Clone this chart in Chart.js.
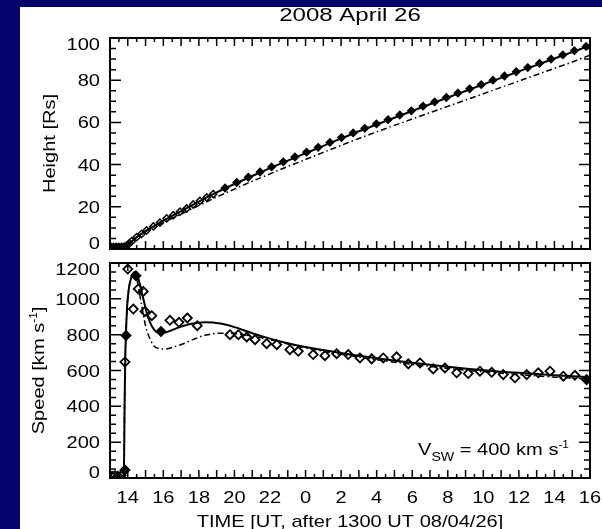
<!DOCTYPE html>
<html lang="en">
<head>
<meta charset="UTF-8">
<meta name="viewport" content="width=device-width, initial-scale=1.0">
<title>CME height and speed - 2008 April 26</title>
<script src="https://cdn.jsdelivr.net/npm/chart.js"></script>
<style>
    * { margin: 0; padding: 0; box-sizing: border-box; }
    body { background-color: #04046c; }
    .page { position: relative; width: 602px; height: 529px; background-color: #04046c; overflow: hidden; }
    .sheet { position: absolute; left: 20px; top: 7px; right: 0; bottom: 0; background-color: #fff; }
    .page canvas { position: absolute; left: 0; top: 0; }
</style>
</head>
<body>
<div class="page">
    <div class="sheet"></div>
    <canvas id="heightChart" width="602" height="529"></canvas>
    <canvas id="speedChart" width="602" height="529"></canvas>
</div>
<script>
// time is in hours from 00 UT on 26 April (24 = 00 UT on the 27th)
const timeMin = 13;
const timeMax = 40;
const timeTicks = [14, 16, 18, 20, 22, 24, 26, 28, 30, 32, 34, 36, 38, 40];
const timeTickLabels = ['14', '16', '18', '20', '22', '0', '2', '4', '6', '8', '10', '12', '14', '16'];
const heightTicks = [0, 20, 40, 60, 80, 100];
const speedTicks = [0, 200, 400, 600, 800, 1000, 1200];

// height-time model curves
const hFitTime = [13.0, 13.8, 13.9, 14.0, 14.2, 14.5, 15.0, 15.5, 16.0, 16.5, 17.0, 18.0, 19.0, 20.0, 21.0, 22.0, 23.0,
    24.0, 25.0, 26.0, 27.0, 28.0, 29.0, 30.0, 31.0, 32.0, 33.0, 34.0, 35.0, 36.0, 37.0, 38.0, 39.0, 40.0];
const hFitSolid = [1.1, 1.1, 1.4, 2.0, 3.5, 5.6, 8.5, 11.0, 13.4, 15.7, 18.0, 22.5, 26.8, 30.8, 34.6, 38.3, 41.9,
    45.4, 48.9, 52.4, 55.8, 59.0, 62.2, 65.4, 68.6, 71.8, 74.9, 78.0, 81.1, 84.2, 87.2, 90.3, 93.3, 96.4];
const hFitDashed = [1.1, 1.1, 1.4, 2.0, 3.5, 5.6, 8.3, 10.5, 12.5, 14.5, 16.5, 20.6, 24.6, 28.4, 32.1, 35.6, 39.1,
    42.4, 45.8, 49.1, 52.4, 55.5, 58.6, 61.6, 64.6, 67.6, 70.6, 73.6, 76.6, 79.6, 82.6, 85.6, 88.6, 91.9];

// measured heights: coronagraph (open) and HI1 (filled)
const hObsEarlyTime = [13.05, 13.2, 13.35, 13.5, 13.65, 13.8, 13.95, 14.08, 14.22, 14.5, 14.78, 15.06, 15.44, 15.81,
    16.19, 16.56, 16.94, 17.31, 17.68, 18.06, 18.44, 18.81];
const hObsEarly = [1.0, 1.0, 1.0, 1.0, 1.0, 1.1, 1.7, 2.6, 3.7, 5.6, 7.2, 8.8, 10.7, 12.5,
    14.5, 16.0, 17.7, 19.2, 21.1, 22.8, 24.4, 26.0];
const hObsLateTime = [19.47, 20.13, 20.78, 21.44, 22.09, 22.75, 23.4, 24.06, 24.71, 25.37, 26.02, 26.68, 27.33, 27.99,
    28.64, 29.3, 29.95, 30.61, 31.26, 31.92, 32.57, 33.23, 33.88, 34.54, 35.19, 35.85, 36.5, 37.16, 37.81, 38.47,
    39.12, 39.78];
const hObsLate = [28.9, 31.5, 34.0, 36.5, 38.9, 41.3, 43.6, 45.9, 48.2, 50.5, 52.8, 55.0, 57.2, 59.3,
    61.3, 63.5, 65.5, 67.7, 69.7, 71.8, 73.9, 75.9, 77.9, 80.0, 82.0, 84.0, 86.0, 88.0, 90.0, 92.0,
    94.0, 96.0];

// speed model curves
const vSolidTime = [13.0, 13.78, 13.82, 13.86, 13.9, 13.96, 14.05, 14.2, 14.4, 14.6, 14.85, 15.1, 15.4, 15.8, 16.2,
    16.8, 17.5, 18.4, 19.2, 20.0, 21.0, 22.0, 23.0, 24.0, 26.0, 28.0, 30.0, 32.0, 34.0, 36.0, 38.0, 40.0];
const vSolid = [5, 5, 400, 680, 810, 950, 1050, 1120, 1150, 1110, 1010, 910, 840, 808, 815,
    838, 860, 869, 862, 842, 808, 778, 752, 731, 698, 668, 643, 621, 602, 587, 574, 563];
const vDashTime = [13.0, 13.78, 13.82, 13.86, 13.9, 13.96, 14.05, 14.2, 14.4, 14.55, 14.75, 15.0, 15.3, 15.6, 16.1,
    16.7, 17.2, 17.7, 18.4, 19.2, 20.0, 21.0, 22.0, 23.0, 24.0, 26.0, 28.0, 30.0, 32.0, 34.0, 36.0, 38.0, 40.0];
const vDash = [5, 5, 400, 680, 810, 950, 1050, 1120, 1150, 1090, 980, 850, 765, 728, 720,
    735, 752, 774, 798, 808, 806, 793, 772, 748, 726, 690, 660, 634, 612, 593, 577, 563, 552];

// measured speeds
const vObsTime = [13.12, 13.28, 13.45, 13.62, 13.84, 14.0, 14.31, 14.59, 14.87, 14.97, 15.35, 16.37, 16.88, 17.35,
    17.91, 19.75, 20.22, 20.69, 21.16, 21.81, 22.38, 23.12, 23.59, 24.43, 25.09, 25.75, 26.4, 27.06, 27.72, 28.37,
    29.12, 29.78, 30.44, 31.18, 31.84, 32.5, 33.15, 33.81, 34.47, 35.12, 35.78, 36.44, 37.09, 37.75, 38.5, 39.15];
const vObs = [10, 14, 10, 12, 648, 1166, 943, 1055, 1041, 930, 906, 880, 869, 893,
    850, 800, 800, 787, 772, 750, 744, 716, 707, 689, 683, 694, 689, 670, 665, 670,
    676, 637, 642, 609, 614, 587, 583, 596, 590, 577, 559, 577, 587, 596, 568, 573];
const vObsFilledTime = [13.84, 13.9, 14.46, 15.87, 39.81];
const vObsFilled = [44, 795, 1129, 818, 549];

const FONT = "'Liberation Sans', Arial, Helvetica, sans-serif";
const STRETCH = 1.18; // lettering runs a little wide

// draws a run of [text, size, dy] pieces, so sub/superscripts can follow normal text
function drawText(ctx, parts, x, y, align, angle, stretch) {
    ctx.save();
    ctx.translate(x, y);
    if (angle) ctx.rotate(angle);
    ctx.scale(stretch || STRETCH, 1);
    ctx.textAlign = 'left';
    ctx.textBaseline = 'alphabetic';
    const widths = parts.map(([text, size]) => {
        ctx.font = size + 'px ' + FONT;
        return ctx.measureText(text).width;
    });
    const total = widths.reduce((a, b) => a + b, 0);
    let cx = align === 'center' ? -total / 2 : align === 'right' ? -total : 0;
    parts.forEach(([text, size, dy], i) => {
        ctx.font = size + 'px ' + FONT;
        ctx.fillText(text, cx, dy);
        cx += widths[i];
    });
    ctx.restore();
}

// boxed axes with inward ticks on all four sides
function panelAxes(cfg) {
    return {
        id: 'panelAxes',
        afterDatasetsDraw(chart) {
            const {ctx, chartArea: a} = chart;
            const xs = chart.scales.x;
            const ys = chart.scales.y;
            ctx.save();
            ctx.strokeStyle = '#000';
            ctx.fillStyle = '#000';
            ctx.lineWidth = 1.5;
            ctx.beginPath();
            for (let t = timeMin; t <= timeMax; t += 0.5) {
                const px = xs.getPixelForValue(t);
                const len = Number.isInteger(t) ? 8 : 4;
                ctx.moveTo(px, a.bottom); ctx.lineTo(px, a.bottom - len);
                ctx.moveTo(px, a.top); ctx.lineTo(px, a.top + len);
            }
            for (let v = ys.min; v <= ys.max; v += cfg.yMinor) {
                const py = ys.getPixelForValue(v);
                const len = v % cfg.yMajor === 0 ? 11 : 6;
                ctx.moveTo(a.left, py); ctx.lineTo(a.left + len, py);
                ctx.moveTo(a.right, py); ctx.lineTo(a.right - len, py);
            }
            ctx.stroke();
            ctx.lineWidth = 2;
            ctx.strokeRect(a.left, a.top, a.right - a.left, a.bottom - a.top);

            // y labels, the end ones pulled inside the frame
            cfg.yTicks.forEach((v, i) => {
                let py = ys.getPixelForValue(v) + 6;
                if (i === 0) py -= 6;
                if (i === cfg.yTicks.length - 1) py += 5.5;
                drawText(ctx, [[String(v), 17, 0]], a.left - 10, py, 'right');
            });
            drawText(ctx, cfg.yTitle, cfg.yTitleX, (a.top + a.bottom) / 2, 'center', -Math.PI / 2);

            if (cfg.title) {
                drawText(ctx, [[cfg.title, 18.5, 0]], (a.left + a.right) / 2, 21, 'center', 0, 1.3);
            }
            if (cfg.xTitle) {
                timeTicks.forEach((t, i) => {
                    drawText(ctx, [[timeTickLabels[i], 17, 0]], xs.getPixelForValue(t), a.bottom + 25, 'center');
                });
                drawText(ctx, [[cfg.xTitle, 17, 0]], (a.left + a.right) / 2, 527, 'center');
            }
            if (cfg.note) {
                drawText(ctx, cfg.note, cfg.noteX, cfg.noteY, 'left');
            }
            ctx.restore();
        }
    };
}

function xy(times, values) {
    return times.map((t, i) => ({x: t, y: values[i]}));
}

function fitLine(times, values, dashed) {
    return {
        data: xy(times, values),
        showLine: true,
        pointRadius: 0,
        borderColor: '#000',
        borderWidth: dashed ? 1.5 : 2,
        borderDash: dashed ? [6, 3, 1.5, 3] : [],
        cubicInterpolationMode: 'monotone'
    };
}

function markers(times, values, filled, radius, width) {
    return {
        data: xy(times, values),
        showLine: false,
        pointStyle: 'rectRot',
        pointRadius: radius,
        pointBorderWidth: width,
        pointBorderColor: '#000',
        pointBackgroundColor: filled ? '#000' : 'rgba(0,0,0,0)'
    };
}

function baseOptions(yMin, yMax, padding) {
    return {
        responsive: false,
        animation: false,
        events: [],
        layout: {padding},
        scales: {
            x: {type: 'linear', min: timeMin, max: timeMax, display: false},
            y: {type: 'linear', min: yMin, max: yMax, display: false}
        },
        plugins: {legend: {display: false}, tooltip: {enabled: false}}
    };
}

// height panel
new Chart(document.getElementById('heightChart'), {
    type: 'scatter',
    data: {
        datasets: [
            fitLine(hFitTime, hFitSolid, false),
            fitLine(hFitTime, hFitDashed, true),
            markers(hObsEarlyTime, hObsEarly, false, 3.6, 1.5),
            markers(hObsLateTime, hObsLate, true, 3.6, 1.5)
        ]
    },
    options: baseOptions(0, 100, {left: 110, right: 12, top: 38, bottom: 280}),
    plugins: [panelAxes({
        yMajor: 20, yMinor: 5, yTicks: heightTicks,
        yTitle: [['Height [Rs]', 17, 0]], yTitleX: 55,
        title: '2008 April 26'
    })]
});

// speed panel
new Chart(document.getElementById('speedChart'), {
    type: 'scatter',
    data: {
        datasets: [
            fitLine(vSolidTime, vSolid, false),
            fitLine(vDashTime, vDash, true),
            markers(vObsTime, vObs, false, 4.5, 1.8),
            markers(vObsFilledTime, vObsFilled, true, 4.5, 1.8)
        ]
    },
    options: baseOptions(0, 1200, {left: 110, right: 12, top: 263, bottom: 51}),
    plugins: [panelAxes({
        yMajor: 200, yMinor: 50, yTicks: speedTicks,
        yTitle: [['Speed [km s', 17, 0], ['-1', 10, -7], [']', 17, 0]], yTitleX: 44,
        xTitle: 'TIME [UT, after 1300 UT 08/04/26]',
        note: [['V', 17, 0], ['SW', 12, 6], [' = 400 km s', 17, 0], ['-1', 10, -7]],
        noteX: 418, noteY: 455
    })]
});
</script>
</body>
</html>
